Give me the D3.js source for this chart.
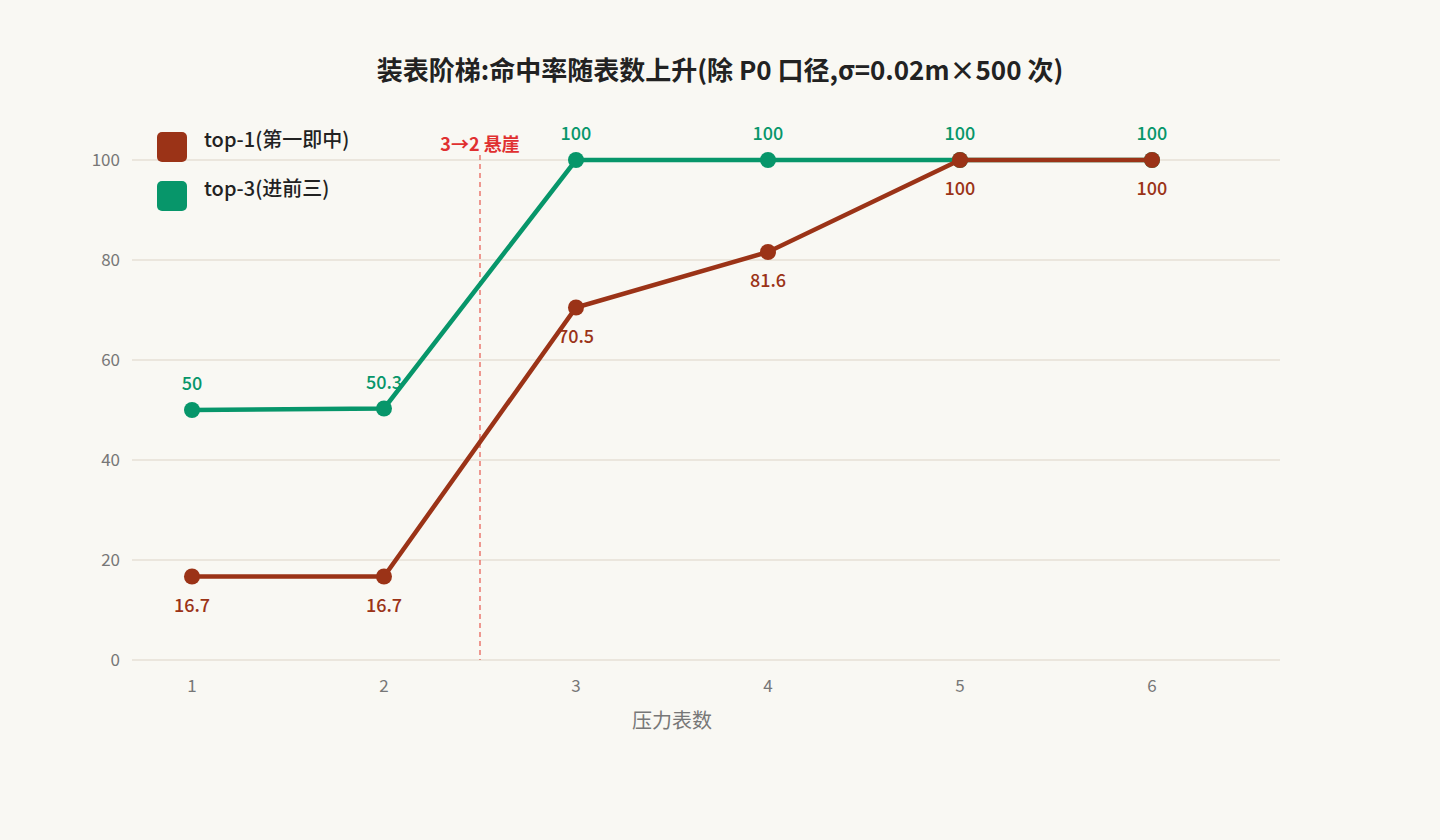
<!DOCTYPE html>
<html><head><meta charset="utf-8">
<script src="https://cdn.jsdelivr.net/npm/d3@7"></script>
<style>body{margin:0;background:#f9f8f3;}svg{display:block;font-family:"Noto Sans CJK SC","Noto Sans",sans-serif;}</style>
</head><body><svg id="c" width="1440" height="840"></svg>
<script>
const counts = [1, 2, 3, 4, 5, 6];
const top1 = [16.7, 16.7, 70.5, 81.6, 100, 100];
const top3 = [50, 50.3, 100, 100, 100, 100];
const yTicks = [0, 20, 40, 60, 80, 100];
const red = "#9b3317", green = "#07966a";

const svg = d3.select("#c");
svg.append("rect").attr("width", 1440).attr("height", 840).attr("fill", "#f9f8f3");
const x = d3.scaleLinear().domain([0.6875, 6.6667]).range([132, 1280]);
const y = d3.scaleLinear().domain([0, 100]).range([660, 160]);

svg.append("text").attr("x", 720).attr("y", 80).attr("text-anchor", "middle")
  .attr("font-size", 26).attr("font-weight", "bold").attr("fill", "#222")
  .text("装表阶梯:命中率随表数上升(除 P0 口径,σ=0.02m×500 次)");

yTicks.forEach(t => {
  svg.append("line").attr("x1", 132).attr("x2", 1280).attr("y1", y(t)).attr("y2", y(t))
    .attr("stroke", "#e6e1d6").attr("stroke-width", 1.5);
  svg.append("text").attr("x", 120).attr("y", y(t) + 6).attr("text-anchor", "end")
    .attr("font-size", 17).attr("fill", "#777").text(t);
});
counts.forEach(c => svg.append("text").attr("x", x(c)).attr("y", 692).attr("text-anchor", "middle")
  .attr("font-size", 17).attr("fill", "#777").text(c));
svg.append("text").attr("x", 672).attr("y", 728).attr("text-anchor", "middle")
  .attr("font-size", 20).attr("fill", "#777").text("压力表数");

svg.append("line").attr("x1", x(2.5)).attr("x2", x(2.5)).attr("y1", 155).attr("y2", 660)
  .attr("stroke", "#e8645a").attr("stroke-dasharray", "5,4").attr("stroke-width", 1.3);
svg.append("text").attr("x", x(2.5)).attr("y", 151).attr("text-anchor", "middle")
  .attr("font-size", 18).attr("font-weight", "bold").attr("fill", "#e03030").text("3→2 悬崖");

const line = d3.line().x((d, i) => x(counts[i])).y(d => y(d));
[[top3, green, -20], [top1, red, 35]].forEach(([data, col, dy]) => {
  svg.append("path").datum(data).attr("d", line).attr("fill", "none")
    .attr("stroke", col).attr("stroke-width", 4.5);
  svg.selectAll(null).data(data).enter().append("circle")
    .attr("cx", (d, i) => x(counts[i])).attr("cy", d => y(d)).attr("r", 8).attr("fill", col);
  svg.selectAll(null).data(data).enter().append("text")
    .attr("x", (d, i) => x(counts[i])).attr("y", d => y(d) + dy).attr("text-anchor", "middle")
    .attr("font-size", 18).attr("font-weight", 500).attr("fill", col).text(d => d);
});

[["top-1(第一即中)", red], ["top-3(进前三)", green]].forEach(([t, col], i) => {
  svg.append("rect").attr("x", 157).attr("y", 132 + i * 49).attr("width", 30).attr("height", 30)
    .attr("rx", 5).attr("fill", col);
  svg.append("text").attr("x", 204).attr("y", 140 + i * 49).attr("dy", "0.35em")
    .attr("font-size", 20).attr("font-weight", 500).attr("fill", "#222").text(t);
});
</script></body></html>
